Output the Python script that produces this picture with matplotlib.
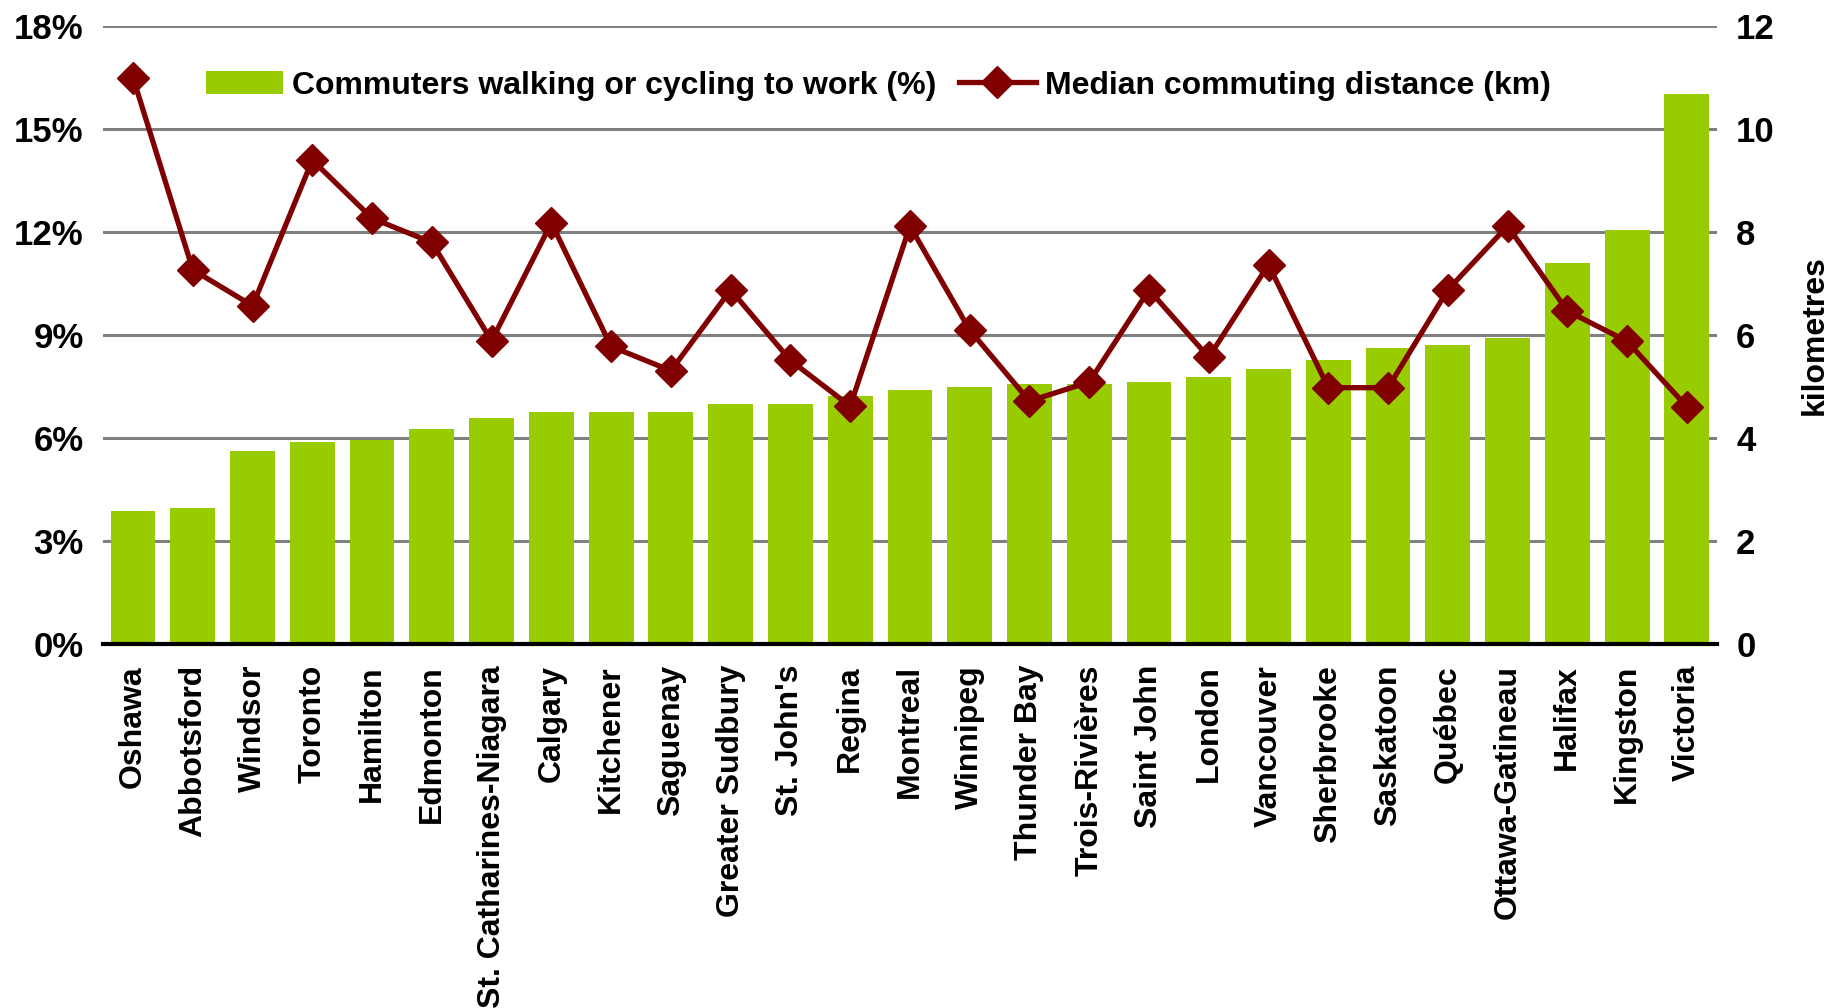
import matplotlib
matplotlib.use('Agg')
import matplotlib.pyplot as plt
from matplotlib.ticker import FuncFormatter

plt.rcParams['font.family'] = ['Liberation Sans', 'DejaVu Sans']
plt.rcParams['font.weight'] = 'bold'

cities = ['Oshawa', 'Abbotsford', 'Windsor', 'Toronto', 'Hamilton', 'Edmonton',
          'St. Catharines-Niagara', 'Calgary', 'Kitchener', 'Saguenay',
          'Greater Sudbury', "St. John's", 'Regina', 'Montreal', 'Winnipeg',
          'Thunder Bay', 'Trois-Rivières', 'Saint John', 'London', 'Vancouver',
          'Sherbrooke', 'Saskatoon', 'Québec', 'Ottawa-Gatineau', 'Halifax',
          'Kingston', 'Victoria']
walk_cycle_pct = [3.87, 3.96, 5.64, 5.9, 5.95, 6.28, 6.6, 6.77, 6.77, 6.77,
                  7.0, 7.0, 7.24, 7.39, 7.48, 7.57, 7.57, 7.65, 7.77, 8.0,
                  8.28, 8.62, 8.7, 8.92, 11.1, 12.05, 16.03]
median_km = [11.0, 7.27, 6.57, 9.4, 8.27, 7.8, 5.89, 8.18, 5.78, 5.31,
             6.88, 5.51, 4.62, 8.12, 6.1, 4.72, 5.09, 6.88, 5.57, 7.37,
             4.98, 4.98, 6.88, 8.12, 6.47, 5.88, 4.61]

fig = plt.figure(figsize=(18.42, 10.08), dpi=100)
ax = fig.add_axes([0.056, 0.361, 0.876, 0.613])
ax2 = ax.twinx()

x = range(len(cities))
ax.bar(x, walk_cycle_pct, width=0.75, color='#99CC00', zorder=2,
       label='Commuters walking or cycling to work (%)')
ax2.plot(x, median_km, color='#800000', lw=3.8, marker='D', ms=16,
         label='Median commuting distance (km)')

ax.set_xlim(-0.5, len(cities) - 0.5)
ax.set_ylim(0, 18)
ax.set_yticks(range(0, 19, 3))
ax.yaxis.set_major_formatter(FuncFormatter(lambda v, p: f'{int(v)}%'))
ax2.set_ylim(0, 12)
ax2.set_yticks(range(0, 13, 2))

ax.grid(axis='y', color='#808080', lw=2.2, zorder=0)
ax.set_axisbelow(True)
for a in (ax, ax2):
    for s in a.spines.values():
        s.set_visible(False)
ax.spines['bottom'].set_visible(True)
ax.spines['bottom'].set_linewidth(3)
ax.spines['bottom'].set_color('black')
ax.spines['bottom'].set_zorder(5)

ax.set_xticks(list(x))
ax.set_xticklabels(cities, rotation=90, fontsize=23, fontweight='bold')
ax.tick_params(axis='x', length=0, pad=15)
ax.tick_params(axis='y', length=0, pad=14, labelsize=25)
ax2.tick_params(axis='y', length=0, pad=14, labelsize=25)
ax2.set_ylabel('kilometres', fontsize=23, fontweight='bold', labelpad=18)

h1, l1 = ax.get_legend_handles_labels()
h2, l2 = ax2.get_legend_handles_labels()
fig.legend(h1 + h2, l1 + l2, loc='center', bbox_to_anchor=(0.477, 0.915),
           ncol=2, frameon=False, fontsize=23, handlelength=2.4,
           columnspacing=0.7, handletextpad=0.3)

fig.savefig('out.png', dpi=100)
